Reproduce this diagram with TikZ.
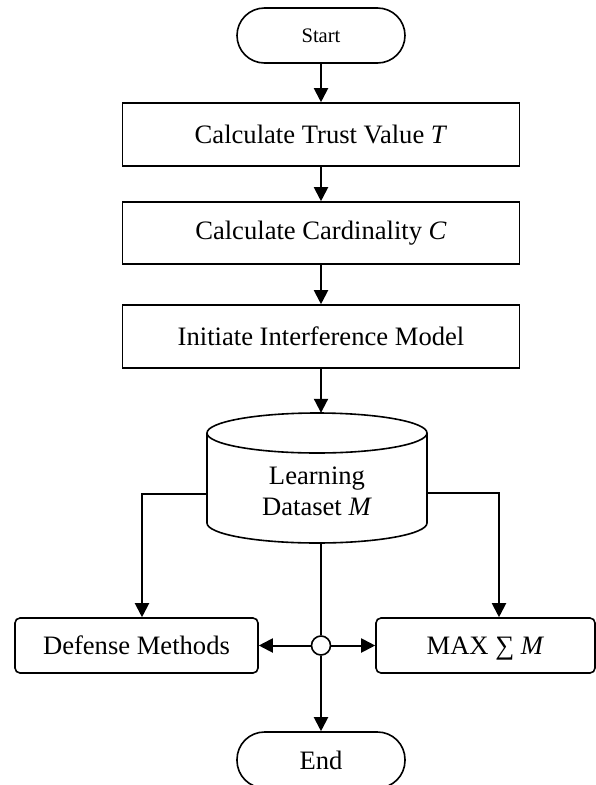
\documentclass[tikz,border=0pt]{standalone}
\usepackage{fontspec}
\setmainfont{Liberation Serif}
\usetikzlibrary{arrows.meta}
\tikzset{
  mainfont/.style={font=\fontsize{26.6}{31}\selectfont},
  procbox/.style={draw, line width=1.6pt, minimum width=397pt, minimum height=63pt, inner sep=0pt, mainfont},
  roundbox/.style={draw, line width=1.6pt, rounded corners=5pt, minimum height=55pt, inner sep=0pt, text height=19pt, text depth=2pt, mainfont},
  termbox/.style={draw, line width=1.6pt, rounded corners=27.5pt, minimum width=168pt, minimum height=55pt, inner sep=0pt},
  arr/.style={line width=2pt, -{Triangle[width=14pt,length=14pt]}},
  plainline/.style={line width=2pt},
}
\begin{document}
\begin{tikzpicture}[x=1pt,y=-1pt]
\useasboundingbox (0,0) rectangle (596,785);
% nodes
\node[termbox, font=\fontsize{20.6}{24}\selectfont] (start) at (321,35.5) {Start};
\node[procbox] (b1) at (321,134.5) {Calculate Trust Value \textit{T}};
\node[procbox, minimum height=62pt] (b2) at (321,233) {Calculate Cardinality \textit{C}};
\node[procbox] (b3) at (321,336.5) {Initiate Interference Model};
% cylinder
\draw[line width=1.6pt] (317,433) ellipse [x radius=110pt, y radius=20pt];
\draw[line width=1.6pt] (207,433) -- (207,523) arc[start angle=180, end angle=360, x radius=110pt, y radius=20pt] -- (427,433);
\node[minimum width=220pt, minimum height=130pt, inner sep=0pt] (cyl) at (317,478) {};
\node[align=center, mainfont, inner sep=0pt] (cyltext) at (317,491) {Learning\\Dataset \textit{M}};
\node[roundbox, minimum width=243pt] (def) at (136.5,645.5) {Defense Methods};
\node[roundbox, minimum width=219pt] (max) at (485.5,645.5) {MAX ∑ \textit{M}};
\node[draw, circle, line width=1.6pt, minimum size=19pt, inner sep=0pt] (j) at (321,645.5) {};
\node[termbox, minimum height=56pt, mainfont] (end) at (321,760) {End};
% connectors
\draw[arr] (start.south) -- (b1.north);
\draw[arr] (b1.south) -- (b2.north);
\draw[arr] (b2.south) -- (b3.north);
\draw[arr] (b3.south) -- (b3.south |- cyl.north);
\draw[arr] ([yshift=-16pt]cyl.west) -| ([xshift=5.5pt]def.north);
\draw[arr] ([yshift=-15pt]cyl.east) -| ([xshift=13.5pt]max.north);
\draw[plainline] (cyl.south -| j) -- (j.north);
\draw[arr] (j.west) -- (def.east);
\draw[arr] (j.east) -- (max.west);
\draw[arr] (j.south) -- (end.north);
\end{tikzpicture}
\end{document}
